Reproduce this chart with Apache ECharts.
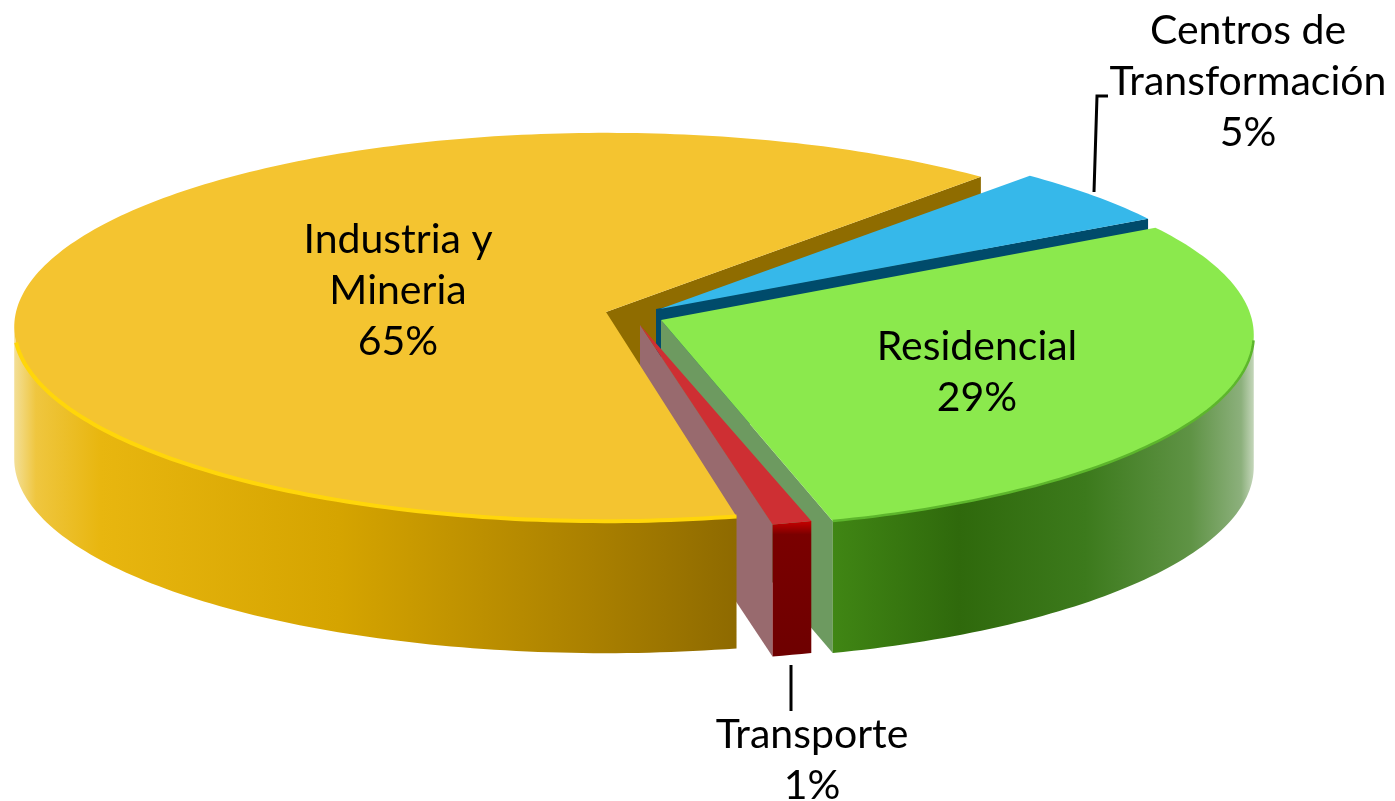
<!DOCTYPE html>
<html>
<head>
	<meta http-equiv="Content-Type" content="text/html;charset=utf-8">
	<title>Consumo por sector</title>
	<script src="https://cdn.jsdelivr.net/npm/echarts@6/dist/echarts.min.js"></script>
	<style>
		html, body { margin: 0; padding: 0; background: #fff; }
		#main { width: 1395px; height: 801px; }
	</style>
</head>
<body>
<div id="main"></div>
<script type="text/javascript">
	// data, clockwise from the blue slice
	var sliceNames = ['Centros de\nTransformación', 'Residencial', 'Transporte', 'Industria y\nMineria'];
	var sliceValues = [5, 29, 1, 65];

	var START_ANGLE = 42.2;
	var RY = 193, PERSP = 0.0773, DEPTH = 132;

	// exploded position of each slice: cx,cy rim centre, ax,ay top apex, wx,wy apex of the cut wall
	var layout = [
		{cx: 655, cy: 311, rx: 590, ax: 660, ay: 309, wx: 656, wy: 309, from: null, to: null, top: '#36B8EA', wall: '#004B6B'},
		{cx: 664, cy: 320, rx: 588, ax: 661, ay: 320, wx: 661, wy: 320, from: 94.4, to: null, top: '#8BE94D', wall: '#6D9A60',
			front: [[0, '#408614'], [0.3, '#2F690C'], [0.6, '#3C7A1C'], [0.85, '#5F9345'], [0.97, '#8CB07C'], [1, '#C4D6BA']], bevel: '#5DB62C', bevelFrom: 96, bevelWidth: 2.5},
		{cx: 642, cy: 320, rx: 590, ax: 640, ay: 325, wx: 640, wy: 325, from: null, to: null, top: '#CE2F33', wall: '#986A6E',
			front: [[0, '#C80000'], [0.1, '#7A0000'], [1, '#6E0000']], frontV: true},
		{cx: 606, cy: 312, rx: 590, ax: 606, ay: 312, wx: 606, wy: 312, from: null, to: 265.6, bevelTo: 261, top: '#F4C430', wall: '#8F6C00',
			front: [[0, '#F3DF97'], [0.03, '#EFC63F'], [0.12, '#E8B60F'], [0.45, '#D5A400'], [0.8, '#AA8000'], [1, '#8E6A00']], bevel: '#FFD60A', bevelWidth: 4}
	];

	var labelBoxes = [
		{x: 1248, y: 82, line: [[1094, 192], [1097, 96], [1108, 96]]},
		{x: 977, y: 372},
		{x: 812, y: 760, line: [[791, 665], [791, 711]]},
		{x: 398, y: 291}
	];

	var total = sliceValues.reduce(function (s, v) { return s + v; }, 0);
	var arcs = [], cursor = START_ANGLE;
	sliceValues.forEach(function (v) {
		var sweep = v / total * 360;
		arcs.push([cursor, cursor + sweep]);
		cursor += sweep;
	});

	function rimPoint(i, deg, dy) {
		var t = deg * Math.PI / 180, u = Math.sin(t), v = -Math.cos(t), w = 1 - PERSP * v;
		return [layout[i].cx + layout[i].rx * u / w, layout[i].cy + RY * v / w + (dy || 0)];
	}
	function rimPoints(i, a, b, dy) {
		var pts = [], n = Math.max(2, Math.ceil(Math.abs(b - a)));
		for (var s = 0; s <= n; s++) {
			pts.push(rimPoint(i, a + (b - a) * s / n, dy));
		}
		return pts;
	}

	var parts = {
		wall: function (i) {
			var l = layout[i], p = rimPoint(i, arcs[i][1] % 360);
			return {type: 'polygon', shape: {points: [[l.wx, l.wy], p, [p[0], p[1] + DEPTH], [l.wx, l.wy + DEPTH]]},
				style: {fill: l.wall}};
		},
		top: function (i) {
			var l = layout[i];
			return {type: 'polygon', shape: {points: [[l.ax, l.ay]].concat(rimPoints(i, arcs[i][0], arcs[i][1]))},
				style: {fill: l.top}};
		},
		front: function (i) {
			var l = layout[i];
			if (!l.front) { return {type: 'group', children: []}; }
			var a = l.from === null ? arcs[i][0] : Math.max(arcs[i][0], l.from);
			var b = l.to === null ? arcs[i][1] : Math.min(arcs[i][1], l.to);
			var fill = new echarts.graphic.LinearGradient(0, 0, l.frontV ? 0 : 1, l.frontV ? 1 : 0,
				l.front.map(function (c) { return {offset: c[0], color: c[1]}; }));
			return {type: 'polygon', shape: {points: rimPoints(i, a, b).concat(rimPoints(i, b, a, DEPTH))},
				style: {fill: fill}};
		},
		bevel: function (i) {
			var l = layout[i];
			if (!l.bevel) { return {type: 'group', children: []}; }
			var a = Math.max(arcs[i][0], l.bevelFrom || 0);
			var b = Math.min(arcs[i][1], l.bevelTo || 999);
			return {type: 'polyline', shape: {points: rimPoints(i, a, b)},
				style: {fill: null, stroke: l.bevel, lineWidth: l.bevelWidth}};
		},
		label: function (i) {
			var box = labelBoxes[i], kids = [{
				type: 'text',
				style: {
					x: box.x, y: box.y,
					text: sliceNames[i] + '\n' + sliceValues[i] + '%',
					fill: '#000',
					font: '41px Lato, "Open Sans", sans-serif',
					lineHeight: 51,
					align: 'center',
					verticalAlign: 'middle'
				}
			}];
			if (box.line) {
				kids.push({type: 'polyline', shape: {points: box.line}, style: {fill: null, stroke: '#000', lineWidth: 3}});
			}
			return {type: 'group', children: kids};
		}
	};

	// painter's order: cut walls first, then faces in front of them
	var partNames = ['wall', 'top', 'front', 'bevel', 'label'];
	var layers = [
		[3, 0], [0, 0], [1, 0], [2, 0],
		[0, 1],
		[1, 2], [1, 1], [1, 3],
		[3, 2], [3, 1], [3, 3],
		[2, 2], [2, 1],
		[3, 4], [1, 4], [0, 4], [2, 4]
	];

	var myChart = echarts.init(document.getElementById('main'));
	myChart.setOption({
		animation: false,
		backgroundColor: '#fff',
		series: [{
			type: 'custom',
			coordinateSystem: 'none',
			silent: true,
			data: layers,
			renderItem: function (params, api) {
				return parts[partNames[api.value(1)]](api.value(0));
			}
		}]
	});
</script>
</body>
</html>
